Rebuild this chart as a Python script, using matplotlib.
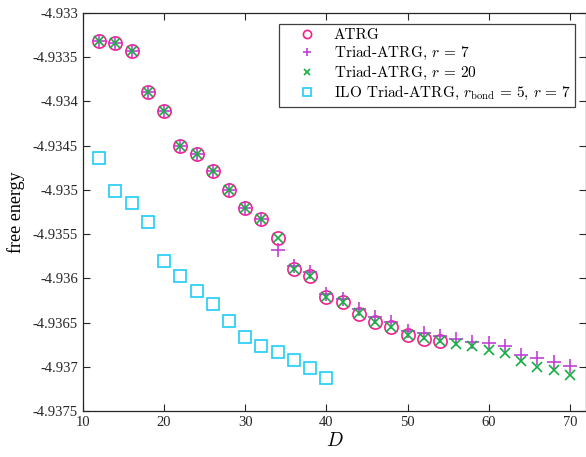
import matplotlib
matplotlib.use("Agg")
import matplotlib.pyplot as plt

plt.rcParams["mathtext.fontset"] = "cm"
plt.rcParams["font.family"] = "Liberation Serif"
plt.rcParams["axes.unicode_minus"] = False

# bond dimension D
D_ATRG = [12, 14, 16, 18, 20, 22, 24, 26, 28, 30, 32, 34, 36, 38, 40, 42, 44, 46, 48, 50, 52, 54]
F_ATRG = [-4.93332, -4.93334, -4.93343, -4.93389, -4.93411, -4.93450, -4.93459, -4.93479,
          -4.93500, -4.93520, -4.93533, -4.93554, -4.93589, -4.93597, -4.93621, -4.93627,
          -4.93640, -4.93649, -4.93655, -4.93664, -4.93669, -4.93671]

D_TRIAD = [12, 14, 16, 18, 20, 22, 24, 26, 28, 30, 32, 34, 36, 38, 40, 42, 44, 46, 48, 50,
           52, 54, 56, 58, 60, 62, 64, 66, 68, 70]
F_TRIAD_R7 = [-4.93332, -4.93334, -4.93343, -4.93389, -4.93411, -4.93450, -4.93459, -4.93479,
              -4.93500, -4.93520, -4.93533, -4.93568, -4.93586, -4.93593, -4.93618, -4.93623,
              -4.93635, -4.93644, -4.93649, -4.93660, -4.93662, -4.93665, -4.93669, -4.93672,
              -4.93673, -4.93677, -4.93687, -4.93690, -4.93695, -4.93699]
F_TRIAD_R20 = [-4.93332, -4.93334, -4.93343, -4.93389, -4.93411, -4.93450, -4.93459, -4.93479,
               -4.93500, -4.93520, -4.93533, -4.93554, -4.93589, -4.93597, -4.93621, -4.93627,
               -4.93639, -4.93649, -4.93655, -4.93664, -4.93668, -4.93671, -4.93674, -4.93677,
               -4.93681, -4.93684, -4.93694, -4.93700, -4.93704, -4.93709]

D_ILO = [12, 14, 16, 18, 20, 22, 24, 26, 28, 30, 32, 34, 36, 38, 40]
F_ILO = [-4.93464, -4.93501, -4.93515, -4.93536, -4.93580, -4.93597, -4.93614, -4.93629,
         -4.93648, -4.93666, -4.93677, -4.93683, -4.93692, -4.93701, -4.93713]

fig = plt.figure(figsize=(5.86, 4.57), dpi=100)
ax = fig.add_axes([0.1416, 0.1007, 0.8584, 0.8709])

ax.plot(D_ATRG, F_ATRG, "o", ms=9.5, mfc="none", mec="#f5208f", mew=1.2, label="ATRG")
ax.plot(D_TRIAD, F_TRIAD_R7, "+", ms=10, mec="#c23fd6", mew=1.2,
        label=r"Triad-ATRG, $r\,=\,7$")
ax.plot(D_TRIAD, F_TRIAD_R20, "x", ms=6.5, mec="#12b13f", mew=1.2,
        label=r"Triad-ATRG, $r\,=\,20$")
ax.plot(D_ILO, F_ILO, "s", ms=9, mfc="none", mec="#1ccdf6", mew=1.2,
        label=r"ILO Triad-ATRG, $r_{\mathrm{bond}}\,=\,5$, $r\,=\,7$")

ax.set_xlim(10, 72)
ax.set_ylim(-4.9375, -4.933)
ax.set_xticks([10, 20, 30, 40, 50, 60, 70])
ax.set_yticks([-4.9375, -4.937, -4.9365, -4.936, -4.9355, -4.935, -4.9345, -4.934, -4.9335, -4.933])
ax.set_yticklabels(["-4.9375", "-4.937", "-4.9365", "-4.936", "-4.9355", "-4.935",
                    "-4.9345", "-4.934", "-4.9335", "-4.933"])
ax.tick_params(direction="in", top=True, right=True, length=5, width=0.8,
               labelsize=10.5, colors="#262626")
for sp in ax.spines.values():
    sp.set_color("#262626")
    sp.set_linewidth(0.9)

ax.set_xlabel(r"$D$", fontsize=14, labelpad=2)
ax.set_ylabel("free energy", fontsize=13, labelpad=6)

leg = ax.legend(loc="upper right", bbox_to_anchor=(0.979, 0.972), fancybox=False,
                edgecolor="#404040", framealpha=1, prop={"family": "cmr10", "size": 11},
                markerscale=0.62, handletextpad=0.25, borderpad=0.3, labelspacing=0.12,
                handlelength=3.0, borderaxespad=0)
leg.get_frame().set_linewidth(0.9)

fig.savefig("out.png", dpi=100)
